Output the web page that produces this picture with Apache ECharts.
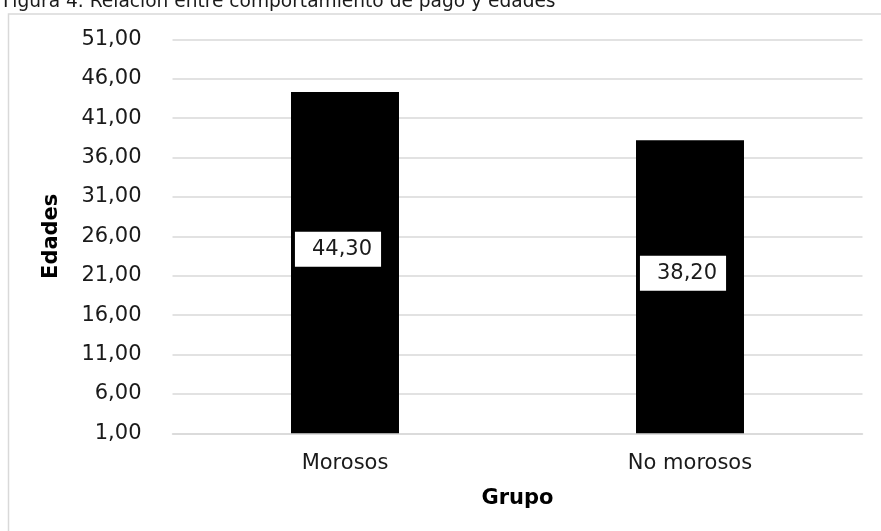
<!DOCTYPE html>
<html>
<head>
<meta charset="utf-8">
<script src="https://cdn.jsdelivr.net/npm/echarts@6/dist/echarts.min.js"></script>
<style>
html,body{margin:0;padding:0;background:#fff;}
#chart{width:881px;height:531px;}
</style>
</head>
<body>
<div id="chart"></div>
<script>
const categories = ['Morosos', 'No morosos'];
const edades = [44.30, 38.20];
const yMin = 1, yMax = 51, yStep = 5;

const FONT = 'DejaVu Sans';
const fmt = v => Number(v).toFixed(2).replace('.', ',');

const chart = echarts.init(document.getElementById('chart'));
chart.setOption({
  animation: false,
  backgroundColor: '#ffffff',
  textStyle: { fontFamily: FONT },
  title: {
    text: 'Figura 4. Relación entre comportamiento de pago y edades',
    left: -2,
    top: -12,
    textStyle: { fontFamily: FONT, fontSize: 18.6, fontWeight: 'normal', color: '#1a1a1a' }
  },
  graphic: [{
    type: 'rect',
    left: 6, top: 11.5,
    shape: { width: 900, height: 600 },
    style: { fill: 'none', stroke: '#d9d9d9', lineWidth: 1.5 },
    z: -1
  }],
  grid: { left: 172.5, right: 18.5, top: 39.3, bottom: 97.7, containLabel: false },
  xAxis: {
    type: 'category',
    data: categories,
    name: 'Grupo',
    nameLocation: 'middle',
    nameGap: 55,
    nameTextStyle: { fontFamily: FONT, fontSize: 21, fontWeight: 'bold', color: '#000' },
    axisLine: { show: true, lineStyle: { color: '#d9d9d9', width: 1.5 } },
    axisTick: { show: false },
    axisLabel: { fontFamily: FONT, fontSize: 21, color: '#1a1a1a', margin: 20 }
  },
  yAxis: {
    type: 'value',
    min: yMin, max: yMax, interval: yStep,
    name: 'Edades',
    nameLocation: 'middle',
    nameGap: 110,
    nameTextStyle: { fontFamily: FONT, fontSize: 21, fontWeight: 'bold', color: '#000' },
    axisLine: { show: false },
    axisTick: { show: false },
    splitLine: { lineStyle: { color: '#d9d9d9', width: 1.5 } },
    axisLabel: { fontFamily: FONT, fontSize: 21, color: '#1a1a1a', margin: 31, formatter: fmt }
  },
  series: [{
    type: 'bar',
    data: edades,
    barWidth: '31.3%',
    itemStyle: { color: '#000000' },
    label: {
      show: true,
      position: 'inside',
      offset: [-7, -13.5],
      formatter: p => fmt(p.value),
      fontFamily: FONT,
      fontSize: 21,
      color: '#1a1a1a',
      backgroundColor: '#ffffff',
      padding: [7, 9, 7, 17]
    }
  }]
});
</script>
</body>
</html>
